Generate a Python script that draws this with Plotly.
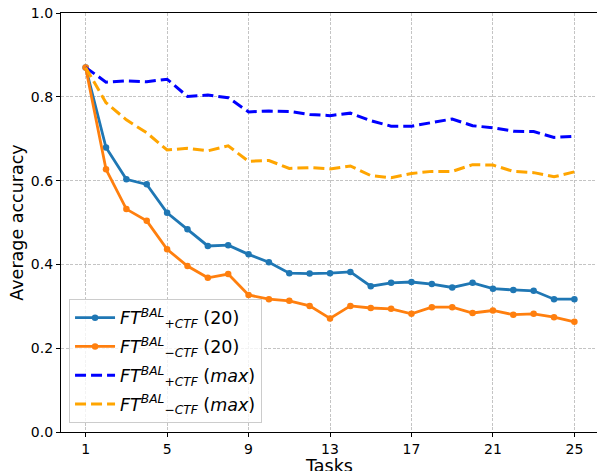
import plotly.graph_objects as go

tasks = list(range(1, 26))

ft_plus_20 = [0.870, 0.679, 0.603, 0.591, 0.523, 0.484, 0.444, 0.446, 0.424, 0.405,
              0.379, 0.378, 0.379, 0.382, 0.348, 0.356, 0.358, 0.353, 0.345, 0.356,
              0.342, 0.339, 0.337, 0.317, 0.317]
ft_minus_20 = [0.870, 0.627, 0.532, 0.504, 0.436, 0.396, 0.368, 0.377, 0.327, 0.317,
               0.313, 0.301, 0.271, 0.301, 0.296, 0.294, 0.282, 0.298, 0.298, 0.284,
               0.290, 0.280, 0.282, 0.274, 0.263]
ft_plus_max = [0.870, 0.835, 0.838, 0.836, 0.842, 0.801, 0.804, 0.798, 0.764, 0.766,
               0.765, 0.758, 0.755, 0.761, 0.743, 0.730, 0.730, 0.739, 0.747, 0.731,
               0.726, 0.718, 0.717, 0.703, 0.706]
ft_minus_max = [0.870, 0.786, 0.745, 0.714, 0.673, 0.677, 0.671, 0.683, 0.646, 0.648,
                0.629, 0.631, 0.628, 0.635, 0.612, 0.607, 0.617, 0.622, 0.622, 0.638,
                0.637, 0.622, 0.619, 0.609, 0.621]

x_ticks = [1, 5, 9, 13, 17, 21, 25]
y_ticks = [0.0, 0.2, 0.4, 0.6, 0.8, 1.0]
x_title = "Tasks"
y_title = "Average accuracy"

names = [
    "<i>FT</i><sup><i>BAL</i></sup><sub><i>+CTF</i></sub> (20)",
    "<i>FT</i><sup><i>BAL</i></sup><sub><i>\u2212CTF</i></sub> (20)",
    "<i>FT</i><sup><i>BAL</i></sup><sub><i>+CTF</i></sub> (<i>max</i>)",
    "<i>FT</i><sup><i>BAL</i></sup><sub><i>\u2212CTF</i></sub> (<i>max</i>)",
]

fig = go.Figure()
fig.add_trace(go.Scatter(x=tasks, y=ft_plus_20, name=names[0], mode="lines+markers",
                         legendgroup="a",
                         line=dict(color="#1f77b4", width=2.8),
                         marker=dict(size=6.5, color="#1f77b4")))
fig.add_trace(go.Scatter(x=tasks, y=ft_minus_20, name=names[1], mode="lines+markers",
                         legendgroup="b",
                         line=dict(color="#ff7f0e", width=2.8),
                         marker=dict(size=6.5, color="#ff7f0e")))
fig.add_trace(go.Scatter(x=tasks, y=ft_plus_max, name=names[2], mode="lines",
                         legendgroup="c",
                         line=dict(color="#0000ff", width=3, dash="11px,5px")))
fig.add_trace(go.Scatter(x=tasks, y=ft_minus_max, name=names[3], mode="lines",
                         legendgroup="d",
                         line=dict(color="#ffa500", width=3, dash="11px,5px")))

fig.update_layout(
    width=597, height=471,
    margin=dict(l=61, r=0, t=13, b=39),
    paper_bgcolor="white", plot_bgcolor="white",
    font=dict(family="DejaVu Sans", size=14, color="black"),
    showlegend=True,
    legend=dict(x=0.015, y=0.022, xanchor="left", yanchor="bottom",
                bgcolor="rgba(255,255,255,0.8)", bordercolor="#cccccc", borderwidth=1,
                font=dict(family="DejaVu Sans", size=17.5), tracegroupgap=3,
                itemwidth=40),
    annotations=[dict(text=x_title, xref="paper", yref="paper", x=0.5, y=0,
                      xanchor="center", yanchor="top", yshift=-22, showarrow=False,
                      font=dict(family="DejaVu Sans", size=17.5, color="black"))],
)
fig.update_xaxes(
    range=[-0.21, 26.11], tickmode="array", tickvals=x_ticks,
    ticktext=[str(v) for v in x_ticks],
    showline=True, linecolor="black", linewidth=1.2, mirror=True,
    ticks="outside", ticklen=4, tickcolor="black",
    showgrid=True, gridcolor="#c4c4c4", gridwidth=1, griddash="3px,1.5px",
    zeroline=False, automargin=False,
    tickfont=dict(size=14),
)
fig.update_yaxes(
    range=[0, 1], tickmode="array", tickvals=y_ticks,
    ticktext=[f"{v:.1f}" for v in y_ticks],
    showline=True, linecolor="black", linewidth=1.2, mirror=False,
    ticks="outside", ticklen=4, tickcolor="black",
    showgrid=True, gridcolor="#c4c4c4", gridwidth=1, griddash="3px,1.5px",
    zeroline=False, automargin=False,
    title=dict(text=y_title, font=dict(size=17.5), standoff=2),
    tickfont=dict(size=14),
)

fig.write_html("out.html")
